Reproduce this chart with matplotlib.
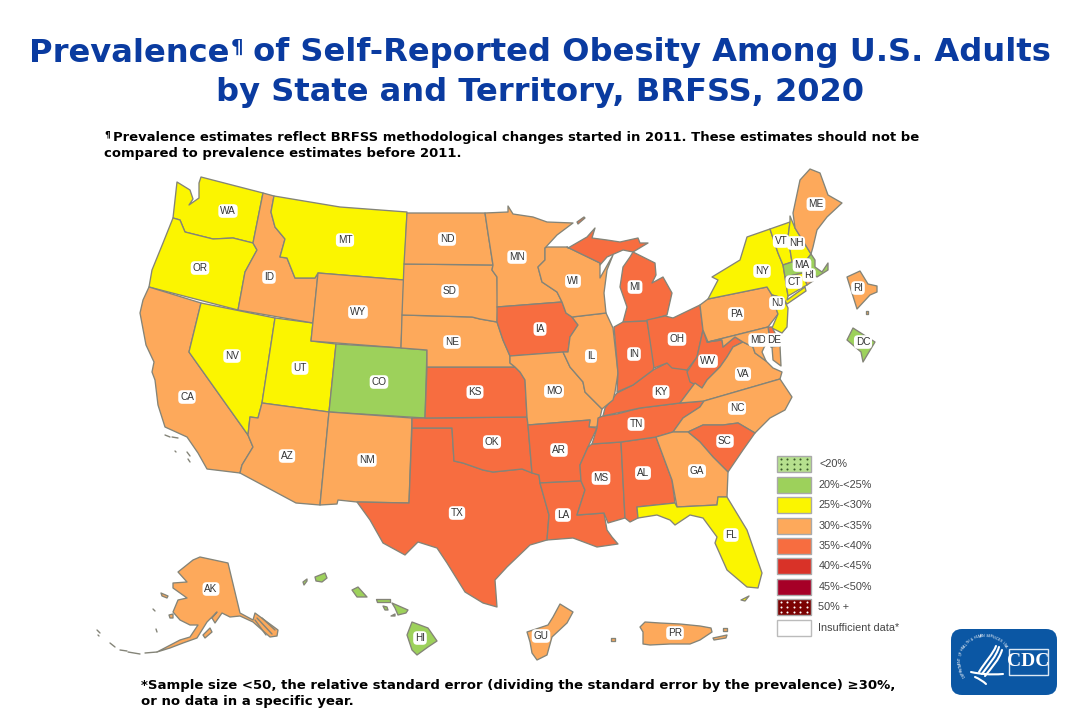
"""
Prevalence of self-reported obesity among U.S. adults, BRFSS 2020.
State outlines are traced by hand, in pixels of a 1080x720 canvas.
"""
import numpy as np
import matplotlib
matplotlib.use("Agg")
import matplotlib.pyplot as plt
from matplotlib.collections import PolyCollection
from matplotlib.colors import BoundaryNorm, ListedColormap
from matplotlib.patches import FancyBboxPatch, PathPatch, Rectangle
from matplotlib.path import Path

# legend classes, low to high
BIN_LABELS = ["<20%", "20%-<25%", "25%-<30%", "30%-<35%", "35%-<40%",
              "40%-<45%", "45%-<50%", "50% +", "Insufficient data*"]
BIN_COLORS = ["#B6E08E", "#9DD15B", "#FBF500", "#FDA95B", "#F76D40",
              "#D93228", "#A60027", "#7B0202", "#FFFFFF"]

# class index (into BIN_LABELS) per state
STATE_CLASS = {
    "CO": 1, "MA": 1, "DC": 1, "HI": 1,
    "WA": 2, "OR": 2, "NV": 2, "UT": 2, "MT": 2, "NY": 2, "VT": 2, "NH": 2,
    "CT": 2, "NJ": 2, "FL": 2,
    "CA": 3, "AZ": 3, "NM": 3, "ID": 3, "WY": 3, "ND": 3, "SD": 3, "NE": 3,
    "MN": 3, "WI": 3, "IL": 3, "MO": 3, "PA": 3, "VA": 3, "NC": 3, "GA": 3,
    "MD": 3, "ME": 3, "RI": 3, "AK": 3, "GU": 3, "PR": 3, "RI2": 3,
    "KS": 4, "OK": 4, "TX": 4, "IA": 4, "AR": 4, "LA": 4, "MS": 4, "AL": 4,
    "TN": 4, "KY": 4, "IN": 4, "MI": 4, "OH": 4, "WV": 4, "SC": 4, "DE": 4,
}

# label anchors on the canvas
STATE_LABELS = {
    "WA": (228, 211), "OR": (200, 268), "CA": (187, 397), "NV": (232, 356),
    "ID": (269, 277), "MT": (345, 240), "WY": (358, 312), "UT": (300, 368),
    "AZ": (287, 456), "CO": (379, 382), "NM": (367, 460), "ND": (447, 239),
    "SD": (450, 291), "NE": (452, 342), "KS": (475, 392), "OK": (492, 442),
    "TX": (457, 513), "MN": (517, 257), "IA": (540, 329), "MO": (554, 391),
    "AR": (559, 450), "LA": (563, 515), "WI": (573, 281), "IL": (591, 356),
    "MS": (601, 478), "MI": (635, 287), "IN": (634, 354), "KY": (661, 392),
    "TN": (636, 424), "AL": (643, 473), "OH": (677, 339), "GA": (697, 471),
    "FL": (731, 535), "SC": (725, 441), "NC": (737, 408), "VA": (743, 374),
    "WV": (708, 361), "PA": (736, 314), "MD": (758, 340), "DE": (774, 340),
    "NJ": (777, 303), "NY": (762, 271), "CT": (794, 282), "RI": (809, 275),
    "MA": (802, 265), "VT": (781, 241), "NH": (796, 243), "ME": (816, 204),
    "AK": (211, 589), "HI": (420, 638), "GU": (541, 636), "PR": (675, 633),
    "DC": (863, 342), "RI2": (858, 288),
}

SHAPES = {
    "WA": [[(201, 177), (263, 193), (253, 243), (233, 238), (213, 239), (197, 235), (185, 232), (180, 220),
            (173, 218), (175, 200), (177, 182), (190, 190), (193, 199), (189, 205), (199, 198), (199, 183)]],
    "OR": [[(173, 218), (180, 220), (185, 232), (197, 235), (213, 239), (233, 238), (253, 243), (257, 250),
            (245, 272), (238, 310), (149, 287), (152, 270), (163, 243)]],
    "CA": [[(149, 287), (201, 303), (189, 352), (248, 435), (253, 447), (242, 465), (240, 473), (207, 469),
            (198, 453), (187, 437), (165, 427), (158, 405), (155, 380), (152, 372), (154, 362), (146, 345),
            (140, 313), (143, 300)]],
    "NV": [[(201, 303), (275, 318), (262, 403), (258, 418), (250, 417), (248, 435), (189, 352)]],
    "UT": [[(275, 318), (313, 323), (311, 341), (336, 344), (329, 412), (262, 403)]],
    "ID": [[(263, 193), (274, 196), (271, 212), (275, 227), (285, 239), (280, 257), (287, 258), (295, 278),
            (315, 278), (318, 273), (313, 323), (238, 310), (245, 272), (257, 250), (253, 243)]],
    "MT": [[(274, 196), (340, 207), (407, 212), (404, 280), (318, 273), (315, 278), (295, 278), (287, 258),
            (280, 257), (285, 239), (275, 227), (271, 212)]],
    "WY": [[(318, 273), (404, 280), (401, 348), (311, 341)]],
    "CO": [[(336, 344), (401, 348), (427, 350), (425, 418), (329, 412)]],
    "AZ": [[(262, 403), (329, 412), (320, 505), (296, 503), (240, 473), (242, 465), (253, 447), (248, 435),
            (250, 417), (258, 418)]],
    "NM": [[(329, 412), (412, 418), (409, 503), (357, 502), (338, 500), (337, 504), (320, 505)]],
    "TX": [[(412, 428), (452, 428), (454, 461), (463, 463), (483, 470), (493, 472), (522, 469), (539, 475),
            (540, 483), (549, 515), (547, 540), (530, 545), (507, 567), (495, 580), (497, 607), (483, 603),
            (465, 592), (447, 563), (437, 548), (418, 542), (405, 555), (383, 543), (370, 520), (357, 502),
            (409, 503)]],
    "OK": [[(412, 418), (425, 418), (527, 417), (528, 425), (532, 473), (522, 469), (493, 472), (483, 470),
            (463, 463), (454, 461), (452, 428), (412, 428)]],
    "KS": [[(427, 367), (515, 367), (520, 372), (525, 380), (527, 417), (425, 418)]],
    "NE": [[(402, 315), (472, 317), (480, 319), (497, 322), (503, 340), (510, 356), (510, 363), (515, 367),
            (427, 367), (427, 350), (401, 348)]],
    "SD": [[(404, 264), (493, 265), (492, 270), (497, 277), (498, 306), (497, 322), (480, 319), (472, 317),
            (402, 315)]],
    "ND": [[(407, 213), (485, 213), (488, 233), (493, 265), (404, 264)]],
    "MN": [[(485, 213), (508, 212), (508, 206), (513, 214), (533, 217), (547, 222), (573, 223), (557, 235),
            (545, 248), (545, 260), (538, 267), (542, 282), (557, 292), (562, 302), (497, 307), (497, 277),
            (492, 270), (493, 265), (488, 233)]],
    "IA": [[(497, 307), (562, 302), (566, 313), (572, 317), (578, 325), (570, 337), (568, 352), (510, 356),
            (503, 340), (497, 322)]],
    "MO": [[(510, 356), (563, 352), (570, 367), (583, 382), (585, 392), (602, 409), (600, 418), (597, 427),
            (589, 427), (590, 420), (528, 425), (527, 417), (525, 380), (520, 372), (515, 367), (510, 363)]],
    "AR": [[(528, 425), (590, 420), (589, 427), (597, 428), (588, 447), (580, 465), (581, 481), (540, 483),
            (539, 475), (532, 473)]],
    "LA": [[(540, 483), (581, 481), (585, 490), (577, 515), (604, 513), (607, 530), (612, 537), (618, 544),
            (597, 547), (573, 538), (547, 540), (549, 515)]],
    "MS": [[(592, 444), (621, 442), (625, 518), (608, 523), (604, 513), (577, 515), (585, 490), (581, 481),
            (580, 465), (588, 447)]],
    "AL": [[(621, 442), (656, 437), (672, 480), (675, 503), (637, 507), (638, 518), (630, 522), (625, 518)]],
    "TN": [[(597, 428), (598, 418), (603, 416), (617, 414), (640, 408), (680, 403), (704, 401), (700, 407),
            (683, 418), (673, 432), (656, 437), (621, 442), (592, 444)]],
    "KY": [[(603, 416), (605, 408), (617, 393), (633, 385), (653, 370), (667, 363), (687, 370), (695, 383),
            (680, 403), (640, 408)]],
    "IL": [[(572, 317), (606, 313), (613, 328), (618, 373), (615, 392), (613, 400), (602, 409), (585, 392),
            (583, 382), (570, 367), (563, 352), (568, 352), (570, 337), (578, 325)]],
    "WI": [[(545, 248), (547, 247), (567, 247), (600, 263), (600, 278), (613, 255), (607, 270), (604, 293),
            (606, 313), (572, 317), (566, 313), (562, 302), (557, 292), (542, 282), (538, 267), (545, 260)]],
    "MI": [[(568, 248), (587, 237), (595, 228), (592, 238), (607, 240), (620, 242), (638, 238), (640, 243),
            (648, 243), (633, 252), (623, 250), (607, 257), (600, 265), (600, 263), (567, 247)],
           [(633, 252), (655, 263), (656, 275), (652, 283), (663, 277), (672, 293), (667, 315), (647, 321),
            (623, 322), (627, 307), (620, 287), (623, 267), (630, 257)],
           [(577, 222), (584, 217), (585, 218), (578, 224)]],
    "IN": [[(614, 327), (623, 322), (647, 321), (655, 363), (653, 370), (633, 385), (617, 392), (618, 373)]],
    "OH": [[(647, 320), (665, 316), (673, 318), (700, 305), (703, 330), (697, 357), (687, 370), (672, 368),
            (667, 363), (654, 368)]],
    "WV": [[(703, 330), (707, 342), (722, 340), (723, 347), (735, 337), (743, 342), (733, 347), (727, 357),
            (720, 367), (707, 380), (702, 388), (690, 382), (687, 372), (697, 357)]],
    "VA": [[(680, 403), (695, 383), (702, 388), (707, 380), (720, 367), (727, 357), (733, 347), (743, 342),
            (753, 347), (755, 353), (766, 361), (773, 368), (782, 372), (780, 379), (704, 401)]],
    "NC": [[(704, 401), (780, 379), (792, 397), (785, 410), (770, 418), (755, 433), (738, 423), (723, 425),
            (703, 425), (688, 432), (673, 432), (683, 418), (700, 407)]],
    "SC": [[(688, 432), (703, 425), (723, 425), (738, 423), (755, 433), (743, 450), (728, 472), (713, 457),
            (700, 442)]],
    "GA": [[(656, 437), (673, 432), (688, 432), (700, 442), (713, 457), (728, 472), (727, 497), (718, 497),
            (717, 505), (677, 507), (672, 480)]],
    "FL": [[(637, 507), (675, 503), (677, 507), (717, 505), (718, 497), (727, 497), (747, 530), (762, 573),
            (758, 588), (747, 587), (727, 570), (715, 543), (717, 537), (703, 518), (690, 515), (675, 525),
            (670, 520), (657, 515), (638, 518)],
           [(741, 600), (749, 596), (745, 601)]],
    "PA": [[(700, 305), (708, 299), (767, 287), (772, 295), (772, 297), (778, 314), (768, 327), (708, 342),
            (703, 330)]],
    "NY": [[(708, 299), (718, 280), (712, 277), (740, 260), (747, 237), (770, 229), (778, 253), (783, 265),
            (785, 277), (788, 296), (787, 300), (805, 287), (806, 291), (787, 304), (783, 298), (772, 295),
            (767, 287)]],
    "VT": [[(770, 229), (790, 222), (788, 237), (792, 262), (783, 265), (778, 253)]],
    "NH": [[(790, 222), (790, 216), (795, 228), (811, 254), (805, 262), (792, 262), (788, 237)]],
    "ME": [[(795, 228), (793, 213), (800, 180), (810, 169), (820, 173), (828, 195), (842, 203), (827, 217),
            (817, 230), (813, 247), (811, 254)]],
    "MA": [[(783, 265), (792, 262), (805, 262), (811, 254), (815, 260), (815, 267), (822, 272), (828, 263),
            (828, 270), (817, 277), (810, 272), (803, 273), (785, 277)]],
    "CT": [[(785, 277), (803, 273), (807, 285), (788, 296)]],
    "RI": [[(803, 273), (810, 272), (813, 281), (807, 285)]],
    "NJ": [[(772, 295), (783, 298), (788, 308), (787, 327), (782, 333), (772, 328), (778, 314), (772, 297)]],
    "DE": [[(768, 327), (772, 327), (777, 337), (780, 346), (771, 347)]],
    "MD": [[(708, 342), (768, 327), (771, 347), (780, 346), (781, 366), (773, 360), (772, 347), (767, 341),
            (762, 352), (766, 361), (755, 353), (753, 347), (743, 342), (735, 337), (723, 347), (722, 340),
            (707, 342)]],
    "DC": [[(853, 328), (875, 342), (863, 362), (861, 352), (847, 340)]],
    "RI2": [[(847, 277), (860, 271), (868, 284), (877, 286), (877, 292), (870, 295), (857, 309)],
            [(866, 311), (868, 311), (868, 314), (866, 314)]],
    "AK": [[(178, 572), (193, 560), (200, 557), (228, 563), (240, 613), (253, 620), (255, 613), (278, 630),
            (277, 636), (270, 637), (253, 622), (240, 616), (230, 617), (222, 613), (215, 623), (212, 618),
            (217, 612), (207, 622), (197, 638), (183, 643), (170, 648), (157, 652), (180, 640), (190, 637),
            (198, 625), (190, 625), (180, 620), (173, 612), (178, 600), (187, 598), (173, 588), (173, 583),
            (187, 582)],
           [(203, 635), (210, 628), (212, 632), (205, 638)],
           [(161, 593), (168, 596), (167, 598), (162, 596)],
           [(169, 615), (173, 614), (173, 618), (170, 618)]],
    "HI": [[(412, 622), (428, 628), (437, 641), (428, 647), (417, 655), (412, 650), (407, 635)],
           [(392, 603), (408, 610), (406, 613), (398, 615), (395, 608)],
           [(376, 599), (390, 599), (390, 602), (377, 602)],
           [(383, 606), (387, 607), (388, 610), (385, 610)],
           [(391, 616), (395, 614), (395, 616)],
           [(358, 587), (367, 597), (357, 597), (352, 590)],
           [(315, 577), (325, 573), (327, 578), (322, 582), (316, 581)],
           [(303, 582), (307, 579), (307, 581), (304, 585)]],
    "GU": [[(560, 604), (573, 612), (567, 623), (552, 637), (547, 655), (537, 660), (532, 653), (530, 642),
            (527, 632), (548, 625), (553, 617)]],
    "PR": [[(645, 622), (660, 623), (680, 624), (700, 626), (711, 628), (712, 632), (700, 640), (690, 644),
            (670, 644), (650, 645), (643, 644), (643, 632), (640, 627)],
           [(611, 638), (615, 638), (615, 641), (611, 641)],
           [(713, 638), (727, 635), (726, 638), (714, 640)],
           [(723, 628), (727, 628), (727, 631), (723, 631)]],
}

# Aleutian chain, panhandle and Channel Islands detail, drawn as plain strokes
ALEUTIANS = [[(97, 630), (100, 633)], [(98, 635), (99, 636)], [(110, 643), (115, 647)], [(120, 650), (127, 651)],
             [(128, 652), (140, 654)], [(145, 653), (157, 652)], [(153, 609), (155, 611)], [(156, 629), (157, 632)]]
PANHANDLE = [[(257, 618), (272, 634)], [(262, 618), (275, 630)], [(255, 620), (266, 635)]]
CHANNEL_IS = [[(165, 435), (170, 437)], [(172, 437), (178, 438)], [(175, 451), (176, 452)], [(187, 452), (190, 456)],
              [(188, 459), (190, 462)]]

TITLE_LEFT = "Prevalence"
TITLE_RIGHT = " of Self-Reported Obesity Among U.S. Adults"
TITLE_2 = "by State and Territory, BRFSS, 2020"
NOTE = ["Prevalence estimates reflect BRFSS methodological changes started in 2011. These estimates should not be",
        "compared to prevalence estimates before 2011."]
FOOT = ["*Sample size <50, the relative standard error (dividing the standard error by the prevalence) ≥30%,",
        "or no data in a specific year."]
RING = "DEPARTMENT OF HEALTH & HUMAN SERVICES USA"

fig = plt.figure(figsize=(10.8, 7.2), dpi=100, facecolor="white")
ax = fig.add_axes([0, 0, 1, 1])
ax.set_xlim(0, 1080)
ax.set_ylim(720, 0)
ax.axis("off")

BORDER = "#848478"
cmap = ListedColormap(BIN_COLORS)
norm = BoundaryNorm(np.arange(len(BIN_COLORS) + 1) - 0.5, cmap.N)

verts, vals = [], []
for st, polys in SHAPES.items():
    for poly in polys:
        verts.append(poly)
        vals.append(STATE_CLASS[st])
ax.add_collection(PolyCollection(verts, array=np.array(vals), cmap=cmap, norm=norm,
                                 edgecolor=BORDER, linewidth=0.95, joinstyle="round"))

for seg in ALEUTIANS + PANHANDLE + CHANNEL_IS:
    xs, ys = zip(*seg)
    ax.plot(xs, ys, color=BORDER, lw=1.0, solid_capstyle="round")

for st, (x, y) in STATE_LABELS.items():
    ax.text(x, y, st.replace("2", ""), ha="center", va="center", fontsize=7.2, color="#333333",
            family="Liberation Sans",
            bbox=dict(boxstyle="round,pad=0.18,rounding_size=0.4", fc="white", ec="none"))

# legend
box_w, box_h = 34, 16
rows_y = [456, 477, 497, 518, 538, 558, 579, 599, 620]
for lab, col, y in zip(BIN_LABELS, BIN_COLORS, rows_y):
    edge = "#BBBBBB" if col == "#FFFFFF" else "#A9A9A9"
    ax.add_patch(Rectangle((777, y), box_w, box_h, fc=col, ec=edge, lw=1.0))
    ax.text(820 if lab == "<20%" else 818.5, y + 8, lab, ha="left", va="center", fontsize=7.8,
            color="#444444", family="Liberation Sans")
for y0, dot in ((456, "#3B5A2A"), (599, "white")):
    dx = np.arange(780.5, 810, 6.5)
    for dy in (3, 8, 13):
        ax.scatter(dx, np.full(dx.shape, y0 + dy), s=2.2, color=dot, linewidths=0, zorder=3)

# title, with a small raised pilcrow
TITLE_BLUE = "#0A3BA0"
TITLE_FS = 23.1
renderer = fig.canvas.get_renderer()
left = ax.text(0, 53, TITLE_LEFT, ha="left", va="center", fontsize=TITLE_FS, fontweight="bold",
               color=TITLE_BLUE, family="DejaVu Sans")
mark = ax.text(0, 47, "¶", ha="left", va="center", fontsize=TITLE_FS * 0.62, fontweight="bold",
               color=TITLE_BLUE, family="DejaVu Sans")
right = ax.text(0, 53, TITLE_RIGHT, ha="left", va="center", fontsize=TITLE_FS, fontweight="bold",
                color=TITLE_BLUE, family="DejaVu Sans")
wl, wm, wr = [t.get_window_extent(renderer).width for t in (left, mark, right)]
x0 = 540 - (wl + wm + wr) / 2
left.set_x(x0)
mark.set_x(x0 + wl + 1)
right.set_x(x0 + wl + wm)
ax.text(540, 92, TITLE_2, ha="center", va="center", fontsize=TITLE_FS, fontweight="bold",
        color=TITLE_BLUE, family="DejaVu Sans")

# notes
ax.text(104, 135, "¶", ha="left", va="center", fontsize=6.5, fontweight="bold", color="black",
        family="DejaVu Sans")
ax.text(113, 137, NOTE[0], ha="left", va="center", fontsize=9.45, fontweight="bold",
        color="black", family="DejaVu Sans")
ax.text(104, 154, NOTE[1], ha="left", va="center", fontsize=9.45, fontweight="bold",
        color="black", family="DejaVu Sans")
for txt, y in zip(FOOT, (685, 702)):
    ax.text(141, y, txt, ha="left", va="center", fontsize=9.54, fontweight="bold",
            color="black", family="DejaVu Sans")

# CDC logo
LOGO = "#0B57A4"
ax.add_patch(FancyBboxPatch((951, 629), 106, 66, boxstyle="round,pad=0,rounding_size=11", fc=LOGO, ec="none"))
ax.add_patch(Rectangle((1009, 649), 39, 26, fc=LOGO, ec="#DCE8F4", lw=1.0))
ax.text(1028.5, 662, "CDC", ha="center", va="center", fontsize=14, fontweight="bold", color="white",
        family="Liberation Serif")

# ring text, clockwise from lower left to the top right
cx, cy, rad = 985, 661, 25
for ch, a in zip(RING, np.linspace(215, 35, len(RING))):
    t = np.deg2rad(a)
    ax.text(cx + rad * np.cos(t), cy - rad * np.sin(t), ch, ha="center", va="center", fontsize=2.6,
            color="white", rotation=a - 90, family="Liberation Sans")

# eagle, white strokes
for pts in ([(999, 647), (996, 657), (989, 664), (982, 674)],
            [(1002, 650), (999, 660), (992, 667), (985, 676)],
            [(996, 646), (993, 654), (985, 662), (979, 672)],
            [(971, 672), (980, 674), (990, 675), (1003, 674)],
            [(975, 677), (982, 680), (986, 684)]):
    codes = [Path.MOVETO, Path.CURVE4, Path.CURVE4, Path.CURVE4]
    if len(pts) == 3:
        codes = [Path.MOVETO, Path.CURVE3, Path.CURVE3]
    ax.add_patch(PathPatch(Path(pts, codes), fc="none", ec="white", lw=1.5, capstyle="round"))

fig.savefig("out.png", dpi=100, facecolor="white")
